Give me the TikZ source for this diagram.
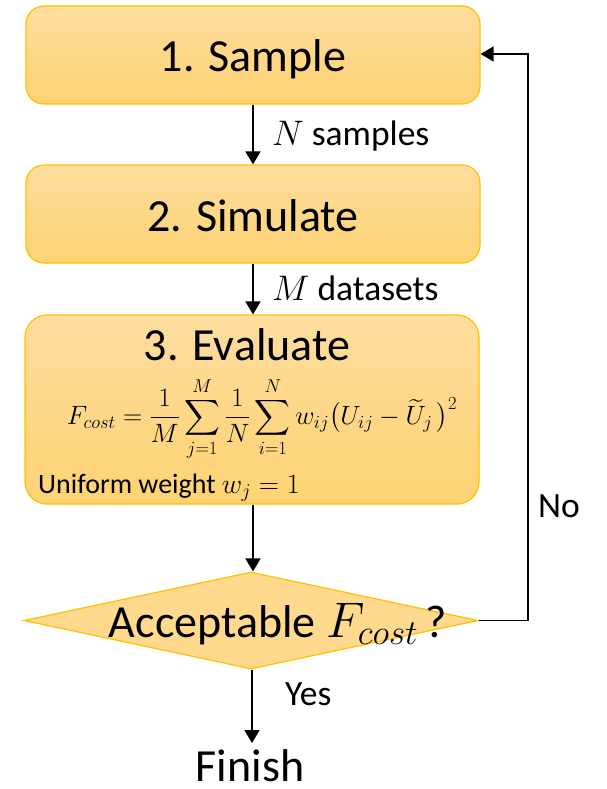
\RequirePackage{fix-cm}
\documentclass[tikz,border=0pt]{standalone}
\usepackage{amsmath}
\usepackage{exscale}
\usepackage{fontspec}
\setmainfont{Carlito}
\usetikzlibrary{shapes.geometric,arrows.meta}
\definecolor{gold}{RGB}{255,192,0}
\definecolor{boxtop}{RGB}{254,221,158}
\definecolor{boxbot}{RGB}{254,211,115}
\definecolor{diafill}{RGB}{255,217,142}
\tikzset{
  stepbox/.style={rectangle, rounded corners=18pt, draw=gold, line width=1.2pt,
    top color=boxtop, bottom color=boxbot, minimum width=454pt, inner sep=0pt},
  titletext/.style={font=\fontsize{46}{55}\selectfont, text height=34pt, text depth=0pt, inner sep=0pt},
  labeltext/.style={font=\fontsize{35.5}{42}\selectfont, inner sep=0pt, anchor=base west},
  flow/.style={line width=1.8pt, -{Triangle[length=13pt,width=15pt]}},
}
\begin{document}
\begin{tikzpicture}[x=1pt,y=-1pt]
\useasboundingbox (0,0) rectangle (607,789);
% boxes
\node[stepbox, minimum height=98pt, titletext] (s1) at (253,55) {1. Sample};
\node[stepbox, minimum height=98pt, titletext] (s2) at (253,214) {2. Simulate};
\node[stepbox, minimum height=189pt, rounded corners=22pt] (s3) at (252,409.5) {};
\node[font=\fontsize{46}{55}\selectfont, inner sep=0pt, anchor=base] (t3) at (247,360) {3. Evaluate};
\node[font=\fontsize{26.5}{32}\selectfont, inner sep=0pt] (f3) at (262,419)
  {$\displaystyle F_{cost}=\frac{1}{M}\sum_{j=1}^{M}\frac{1}{N}\sum_{i=1}^{N}w_{ij}\bigl(U_{ij}-\widetilde{U}_j\,\bigr)^2$};
\node[font=\fontsize{28}{34}\selectfont, inner sep=0pt, anchor=base west] (u3) at (38,493) {Uniform weight $w_j=1$};
% decision
\node[diamond, draw=gold, line width=1.2pt, fill=diafill, minimum width=454pt, minimum height=97pt, inner sep=0pt] (d) at (251,620.5) {};
\node[font=\fontsize{46}{55}\selectfont, inner sep=0pt, anchor=base] (dt) at (278,637) {Acceptable {\fontsize{50}{55}\selectfont$F_{cost}$}\,?};
% finish
\node[font=\fontsize{46}{55}\selectfont, inner sep=0pt, anchor=base] (fin) at (250,781) {Finish};
\coordinate (finTop) at (252,743);
% labels
\node[labeltext] (l1) at (272,145) {$N$ samples};
\node[labeltext] (l2) at (272,300) {$M$ datasets};
\node[labeltext] (lno) at (538,517) {No};
\node[labeltext] (lyes) at (285,705) {Yes};
% connectors
\draw[flow] (s1.south -| 253,0) -- (s2.north -| 253,0);
\draw[flow] (s2.south -| 253,0) -- (s3.north -| 253,0);
\draw[flow] (s3.south -| 253,0) -- (d.north -| 253,0);
\draw[flow] (d.south -| 252,0) -- (finTop);
\coordinate (c1) at (528,0);
\draw[flow] (d.east) -- (d.east -| c1) -- (c1 |- 0,54) -- (s1.east |- 0,54);
\end{tikzpicture}
\end{document}
